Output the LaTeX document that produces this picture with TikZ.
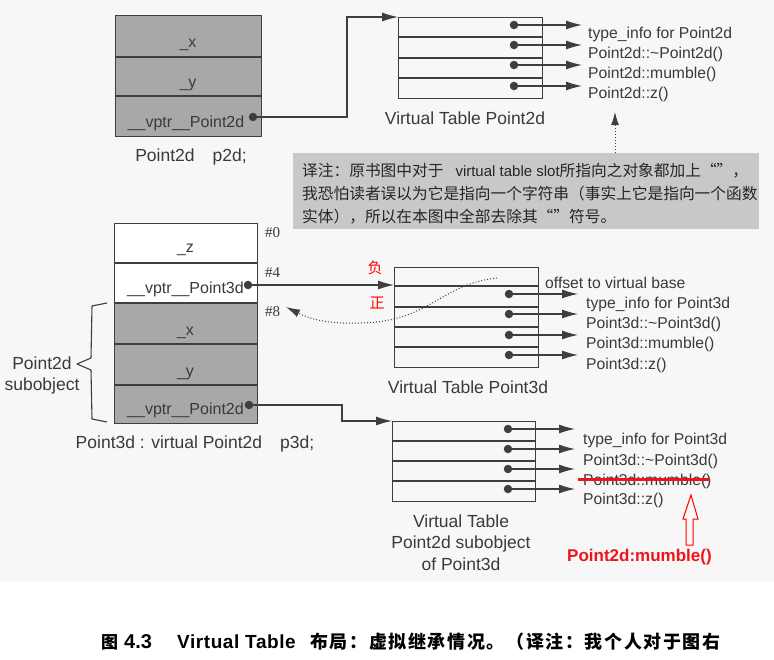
\documentclass[tikz,border=0pt]{standalone}
\usepackage{fontspec}
\setmainfont{Liberation Sans}
\newfontfamily\cjk{Noto Sans CJK SC}
\newfontfamily\serifnum{Liberation Serif}
\usetikzlibrary{arrows.meta}
\definecolor{ink}{RGB}{62,62,62}
\definecolor{txt}{RGB}{58,58,58}
\definecolor{objgray}{RGB}{168,168,168}
\definecolor{notegray}{RGB}{200,200,200}
\definecolor{bg}{RGB}{247,247,247}
\definecolor{redc}{RGB}{238,20,30}
\tikzset{
  lbl/.style={font=\fontsize{15.7}{18}\selectfont, text=txt, inner sep=0pt, anchor=base west},
  fld/.style={font=\fontsize{16}{19}\selectfont, text=txt, inner sep=0pt, anchor=base},
  ttl/.style={font=\fontsize{17.5}{21}\selectfont, text=txt, inner sep=0pt, anchor=base},
  offlbl/.style={font=\serifnum\fontsize{15}{18}\selectfont, text=txt, inner sep=0pt, anchor=base west},
  notelbl/.style={font=\cjk\fontsize{15.7}{18}\selectfont, text=black!85, inner sep=0pt, anchor=base west},
  ptr/.style={draw=ink, line width=1.1pt, -{Latex[length=16pt,width=9pt]}},
  dotc/.style={circle, fill=ink, inner sep=0pt, minimum size=8.5pt},
  rowline/.style={draw=ink, line width=1.6pt},
  boxline/.style={draw=ink, line width=1pt},
  redlbl/.style={font=\cjk\fontsize{15}{18}\selectfont, text=red, inner sep=0pt},
}
\begin{document}
\begin{tikzpicture}[x=1pt,y=-1pt]
\useasboundingbox (0,0) rectangle (774,659);
\fill[bg] (0,0) rectangle (774,581);

% ---------- Point2d object ----------
\draw[boxline, fill=objgray] (115,15) rectangle (261,136);
\draw[rowline] (115,57) -- (261,57) (115,96) -- (261,96);
\node[fld] (p2x) at (188,47) {\_x};
\node[fld] (p2y) at (188,87) {\_y};
\node[fld] (p2v) at (186,127) {\_\_vptr\_\_Point2d};
\node[dotc] (p2dot) at (253,117) {};
\node[ttl] (p2lbl) at (191,161) {Point2d\hspace{18pt}p2d;};

% ---------- vtable Point2d ----------
\draw[boxline] (398,17) rectangle (542,98);
\draw[rowline] (398,37) -- (542,37) (398,58) -- (542,58) (398,78) -- (542,78);
\coordinate (vt2) at (398,17);
\draw[ptr] (p2dot.center) -- ++(94,0) |- (vt2);
\foreach \i/\y in {1/25,2/45,3/65,4/86}{
  \node[dotc] (a\i) at (514,\y) {};
  \coordinate (ta\i) at (582,\y);
  \draw[ptr] (a\i.center) -- (ta\i);
}
\node[lbl] (l21) at (588,38) {type\_info for Point2d};
\node[lbl] (l22) at (588,58) {Point2d::\textasciitilde Point2d()};
\node[lbl] (l23) at (588,78) {Point2d::mumble()};
\node[lbl] (l24) at (588,98) {Point2d::z()};
\node[ttl] (vt2t) at (465,124) {Virtual Table Point2d};

% ---------- note ----------
\node[fill=notegray, minimum width=466pt, minimum height=76pt, anchor=north west, inner sep=0pt] (note) at (293,153) {};
\node[notelbl] (n1) at (302,176) {译注：原书图中对于\hspace{12pt}{\fontspec{Liberation Sans}\fontsize{15}{17}\selectfont virtual table slot}所指向之对象都加上“”，};
\node[notelbl] (n2) at (302,199) {我恐怕读者误以为它是指向一个字符串（事实上它是指向一个函数};
\node[notelbl] (n3) at (302,222) {实体），所以在本图中全部去除其“”符号。};
\coordinate (zarr) at (615,112);
\draw[dotted, line width=1pt, draw=ink, -{Latex[length=13pt,width=8pt]}] (note.north -| zarr) -- (zarr);

% ---------- Point3d object ----------
\draw[boxline, fill=white] (114,223) rectangle (257,303);
\draw[boxline, fill=objgray] (114,303) rectangle (257,423);
\draw[rowline] (114,263) -- (257,263) (114,303) -- (257,303) (114,344) -- (257,344) (114,385) -- (257,385);
\node[fld] (p3z) at (185.5,252) {\_z};
\node[fld] (p3v) at (185.5,293) {\_\_vptr\_\_Point3d};
\node[fld] (p3x) at (185.5,335) {\_x};
\node[fld] (p3y) at (185.5,376) {\_y};
\node[fld] (p3w) at (185.5,414) {\_\_vptr\_\_Point2d};
\node[dotc] (p3dot) at (248,285) {};
\node[dotc] (p3bdot) at (249,405) {};
\node[offlbl] (o0) at (265,237) {\#0};
\node[offlbl] (o4) at (265,277) {\#4};
\node[offlbl] (o8) at (265,316) {\#8};
\node[ttl] (p3lbl) at (195,448) {Point3d : virtual Point2d\hspace{18pt}p3d;};

% brace
\draw[ink, line width=1.1pt, line join=round] (107,303) -- (92,306) -- (91,358) -- (77,364) -- (91,370) -- (92,419) -- (107,422);
\node[ttl] (sub1) at (42,369) {Point2d};
\node[ttl] (sub2) at (42,390) {subobject};

% ---------- vtable Point3d ----------
\draw[boxline] (394,267) rectangle (538,367);
\draw[rowline] (394,286) -- (538,286) (394,307) -- (538,307) (394,327) -- (538,327) (394,347) -- (538,347);
\coordinate (vt3) at (394,286);
\draw[ptr] (p3dot.center) -- (p3dot.center -| vt3);
\foreach \i/\y in {1/294,2/314,3/335,4/355}{
  \node[dotc] (b\i) at (509,\y) {};
  \coordinate (tb\i) at (578,\y);
  \draw[ptr] (b\i.center) -- (tb\i);
}
\node[lbl] (l30) at (545,288) {offset to virtual base};
\node[lbl] (l31) at (586,308) {type\_info for Point3d};
\node[lbl] (l32) at (586,328) {Point3d::\textasciitilde Point3d()};
\node[lbl] (l33) at (586,348) {Point3d::mumble()};
\node[lbl] (l34) at (586,369) {Point3d::z()};
\node[ttl] (vt3t) at (468,393) {Virtual Table Point3d};

% dotted curve back to #8
\coordinate (cs) at (497,278);
\coordinate (c8) at (286,307);
\draw[dotted, line width=1pt, draw=ink, -{Latex[length=14pt,width=8pt]}] (cs) .. controls (440,284) and (430,322) .. (360,323) .. controls (330,324) and (312,320) .. (c8);
\node[redlbl] (neg) at (375,268) {负};
\node[redlbl] (pos) at (377,303) {正};

% ---------- vtable Point2d subobject ----------
\draw[boxline] (392,421) rectangle (535,501);
\draw[rowline] (392,441) -- (535,441) (392,461) -- (535,461) (392,481) -- (535,481);
\coordinate (vts) at (392,421);
\draw[ptr] (p3bdot.center) -- ++(93,0) |- (vts);
\foreach \i/\y in {1/429,2/449,3/469,4/489}{
  \node[dotc] (c\i) at (508,\y) {};
  \coordinate (tc\i) at (575,\y);
  \draw[ptr] (c\i.center) -- (tc\i);
}
\node[lbl] (l41) at (583,444) {type\_info for Point3d};
\node[lbl] (l42) at (583,465) {Point3d::\textasciitilde Point3d()};
\node[lbl] (l43) at (583,485) {Point3d::mumble()};
\node[lbl] (l44) at (583,504) {Point3d::z()};
\node[ttl] (vsa) at (461,527) {Virtual Table};
\node[ttl] (vsb) at (461,548) {Point2d subobject};
\node[ttl] (vsc) at (461,570) {of Point3d};

% red correction
\draw[redc, line width=3pt] (578,479) -- (710,479);
\draw[red, line width=1pt, line join=miter] (686,545) -- (686,519) -- (683,519) -- (691,495) -- (698,519) -- (693,519) -- (693,545) -- cycle;
\node[font=\bfseries\fontsize{17}{20}\selectfont, text=redc, inner sep=0pt, anchor=base west] (fix) at (567,561) {Point2d:mumble()};

% ---------- caption ----------
\node[font=\cjk\bfseries\fontsize{17}{20}\selectfont, inner sep=0pt, anchor=base west] (cap1) at (101,648) {图};
\node[font=\bfseries\fontsize{20}{22}\selectfont, inner sep=0pt, anchor=base west] (cap2) at (124,648) {4.3};
\node[font=\bfseries\fontsize{19}{22}\selectfont\addfontfeature{LetterSpace=3}, inner sep=0pt, anchor=base west] (cap3) at (177,648) {Virtual Table};
\node[font=\cjk\bfseries\fontsize{18}{21}\selectfont\addfontfeature{LetterSpace=9}, inner sep=0pt, anchor=base west] (cap4) at (310,648) {布局：虚拟继承情况。（译注：我个人对于图右};
\end{tikzpicture}
\end{document}
